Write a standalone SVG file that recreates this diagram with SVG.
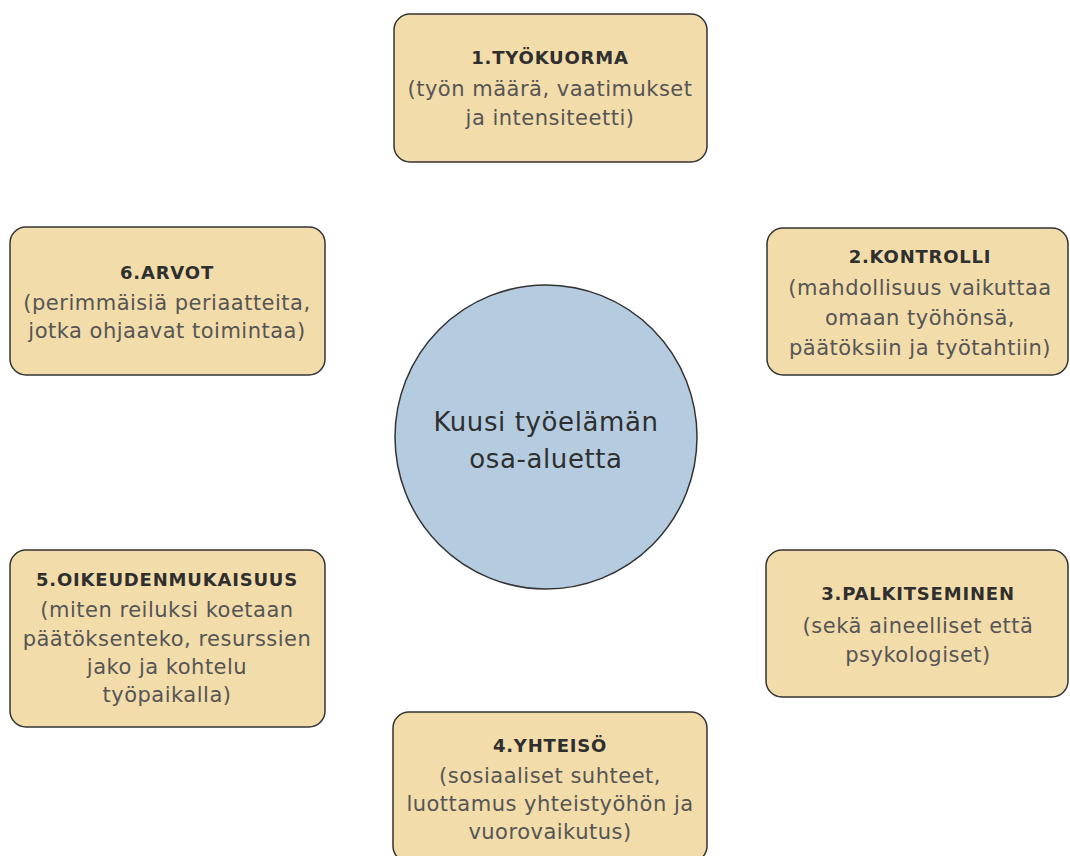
<svg xmlns="http://www.w3.org/2000/svg" width="1070" height="856" viewBox="0 0 1070 856">
<style>
.box{fill:#f2dcaa;stroke:#333;stroke-width:1.5}
.t{font-family:"DejaVu Sans","Noto Sans",sans-serif;font-weight:700;font-size:18px;letter-spacing:0.8px;fill:#2f2f2f;text-anchor:middle}
.b{font-family:"DejaVu Sans","Noto Sans",sans-serif;font-size:21px;letter-spacing:0.5px;fill:#555;text-anchor:middle}
.c{font-family:"DejaVu Sans","Noto Sans",sans-serif;font-size:26px;letter-spacing:0.6px;fill:#2f2f2f;text-anchor:middle}
</style>
<rect width="1070" height="856" fill="#fff"/>
<g id="center">
<ellipse cx="546" cy="437" rx="151" ry="152" fill="#b5cce0" stroke="#333" stroke-width="1.5"/>
<text class="c" x="546" y="431">Kuusi työelämän</text>
<text class="c" x="546" y="468">osa-aluetta</text>
</g>
<g id="n1">
<rect class="box" x="394" y="14" width="313" height="148" rx="16"/>
<text class="t" x="550" y="64">1.TYÖKUORMA</text>
<text class="b" x="550" y="96">(työn määrä, vaatimukset</text>
<text class="b" x="550" y="125">ja intensiteetti)</text>
</g>
<g id="n2">
<rect class="box" x="767" y="228" width="301" height="147" rx="16"/>
<text class="t" x="920" y="263">2.KONTROLLI</text>
<text class="b" x="920" y="295">(mahdollisuus vaikuttaa</text>
<text class="b" x="920" y="325">omaan työhönsä,</text>
<text class="b" x="920" y="355">päätöksiin ja työtahtiin)</text>
</g>
<g id="n3">
<rect class="box" x="766" y="550" width="302" height="147" rx="16"/>
<text class="t" x="918" y="600">3.PALKITSEMINEN</text>
<text class="b" x="918" y="633">(sekä aineelliset että</text>
<text class="b" x="918" y="662">psykologiset)</text>
</g>
<g id="n4">
<rect class="box" x="393" y="712" width="314" height="150" rx="16"/>
<text class="t" x="550" y="752">4.YHTEISÖ</text>
<text class="b" x="550" y="783">(sosiaaliset suhteet,</text>
<text class="b" x="550" y="811">luottamus yhteistyöhön ja</text>
<text class="b" x="550" y="839">vuorovaikutus)</text>
</g>
<g id="n5">
<rect class="box" x="10" y="550" width="315" height="177" rx="16"/>
<text class="t" x="167" y="586">5.OIKEUDENMUKAISUUS</text>
<text class="b" x="167" y="617">(miten reiluksi koetaan</text>
<text class="b" x="167" y="646">päätöksenteko, resurssien</text>
<text class="b" x="167" y="674">jako ja kohtelu</text>
<text class="b" x="167" y="702">työpaikalla)</text>
</g>
<g id="n6">
<rect class="box" x="10" y="227" width="315" height="148" rx="16"/>
<text class="t" x="167" y="279">6.ARVOT</text>
<text class="b" x="167" y="310">(perimmäisiä periaatteita,</text>
<text class="b" x="167" y="338">jotka ohjaavat toimintaa)</text>
</g>
<g id="connectors"></g>
</svg>
